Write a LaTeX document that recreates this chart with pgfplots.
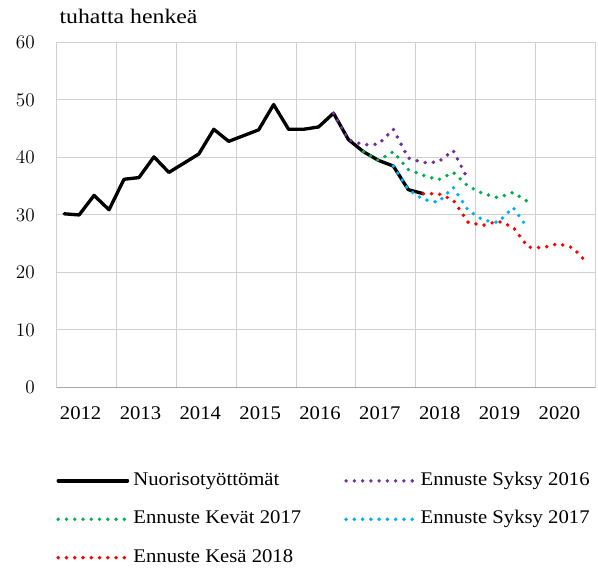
\documentclass[border=0pt]{standalone}
\usepackage{fontspec}
\setmainfont{Liberation Serif}[FakeStretch=1.07]
\newfontfamily\titlefont{Liberation Serif}[FakeStretch=1.15]
\usepackage{pgfplots}
\usepackage{pgfplotstable}
\pgfplotsset{compat=1.18}
\definecolor{cpurple}{HTML}{7030A0}
\definecolor{cgreen}{HTML}{00B050}
\definecolor{cblue}{HTML}{00B0F0}
\definecolor{cred}{HTML}{FF0000}
\definecolor{cgrid}{HTML}{D0D0D0}
\definecolor{cbase}{HTML}{A8A8A8}

\pgfplotstableread{
x y
0 30.2
1 30.0
2 33.4
3 30.9
4 36.2
5 36.5
6 40.1
7 37.4
8 39.0
9 40.6
10 44.9
11 42.8
12 43.8
13 44.8
14 49.2
15 44.9
16 44.9
17 45.3
18 47.7
19 43.1
20 41.0
21 39.5
22 38.5
23 34.4
24 33.7
}\actual

\pgfplotstableread{
x y
18 47.7
19 43.1
20 42.2
21 42.3
22 44.9
23 39.9
24 39.1
25 39.2
26 41.2
27 36.1
}\syksyA

\pgfplotstableread{
x y
20 41.0
21 39.5
22 41.0
23 37.9
24 36.9
25 36.1
26 37.4
27 35.0
28 33.7
29 33.0
30 33.9
31 32.3
}\kevat

\pgfplotstableread{
x y
22 38.5
23 34.4
24 32.7
25 32.2
26 34.8
27 30.8
28 29.1
29 28.7
30 31.3
31 27.6
}\syksyB

\pgfplotstableread{
x y
24 33.7
25 33.7
26 32.6
27 28.7
28 28.2
29 28.9
30 27.9
31 24.4
32 24.3
33 25.0
34 24.3
35 21.5
}\kesa

\begin{document}
\fontsize{14.5}{17}\selectfont
\begin{tikzpicture}
\begin{axis}[
  name=ax,
  scale only axis,
  width=404pt, height=258.7pt,
  xmin=-0.5, xmax=35.5, ymin=0, ymax=60,
  ytick={0,10,20,30,40,50,60},
  xtick={1.1,5.1,9.1,13.1,17.1,21.1,25.1,29.1,33.1},
  xticklabels={2012,2013,2014,2015,2016,2017,2018,2019,2020},
  minor xtick={3.5,7.5,11.5,15.5,19.5,23.5,27.5,31.5},
  xminorgrids=true, ymajorgrids=true, xmajorgrids=false,
  major tick length=0pt, minor tick length=0pt,
  grid style={cgrid, line width=0.8pt},
  minor grid style={cgrid, line width=0.8pt},
  axis line style={cgrid, line width=0.8pt},
  tick label style={font=\fontsize{14.5}{17}\selectfont},
  yticklabel style={inner sep=0pt, anchor=east, xshift=-16.3pt},
  xticklabel style={inner sep=0pt, anchor=north, yshift=-14.2pt},
  clip=false,
  legend columns=2,
  legend cell align=left,
  legend image code/.code={\draw[#1] (0pt,0pt) -- (52pt,0pt);},
  legend style={draw=none, fill=none, inner sep=0pt,
    at={(0,0)}, anchor=north west, xshift=-0.5pt, yshift=-63.4pt,
    font=\fontsize{14.5}{17}\selectfont,
    nodes={inner sep=0pt, text height=10pt, text depth=3pt},
    /tikz/row sep=15.8pt,
    /tikz/column 1/.style={column sep=3pt},
    /tikz/column 2/.style={column sep=18pt},
    /tikz/column 3/.style={column sep=2.5pt}},
  dotted style/.style={line width=2.9pt, line cap=round, dash pattern=on 0pt off 6.2pt},
]
\addplot[black, line width=2.5pt, line join=round, line cap=round] table[x=x,y=y]{\actual};
\addlegendentry{\makebox[140pt][l]{Nuorisotyöttömät}}
\addplot[cpurple, dotted style] table[x=x,y=y]{\syksyA};
\addlegendentry{Ennuste Syksy 2016}
\addplot[cgreen, dotted style] table[x=x,y=y]{\kevat};
\addlegendentry{\makebox[140pt][l]{Ennuste Kevät 2017}}
\addplot[cblue, dotted style] table[x=x,y=y]{\syksyB};
\addlegendentry{Ennuste Syksy 2017}
\addplot[cred, dotted style] table[x=x,y=y]{\kesa};
\addlegendentry{\makebox[140pt][l]{Ennuste Kesä 2018}}
\draw[cbase, line width=0.8pt] (rel axis cs:0,0) -- (rel axis cs:1,0);
\node[anchor=base west, inner sep=0pt, font=\titlefont\fontsize{15.5}{18}\selectfont]
  at (rel axis cs:0,1) [xshift=2pt, yshift=14.4pt] {tuhatta henkeä};
\end{axis}
\pgfresetboundingbox
\path ([shift={(-42.5pt,-134.7pt)}]ax.south west) rectangle ([shift={(406pt,290.55pt)}]ax.south west);
\end{tikzpicture}
\end{document}
